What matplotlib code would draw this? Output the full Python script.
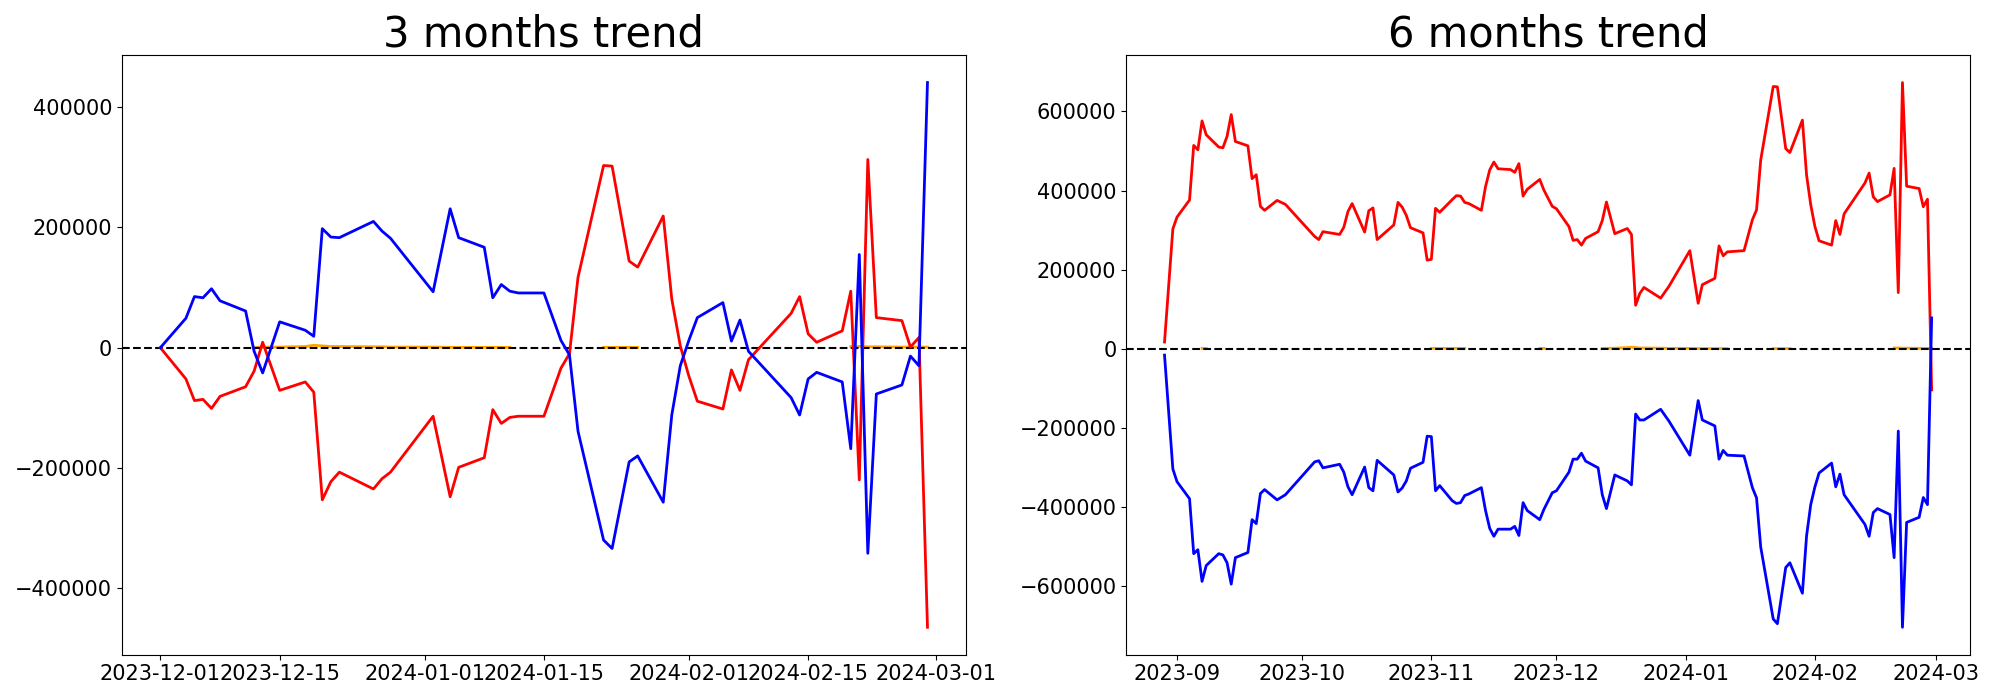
import matplotlib as mpl
mpl.use("agg")
import matplotlib.pyplot as plt
import numpy as np
import pandas as pd

nan = np.nan

# 3 months window (values in thousands)
dates_3m = ["2023-12-01", "2023-12-04", "2023-12-05", "2023-12-06", "2023-12-07", "2023-12-08",
            "2023-12-11", "2023-12-12", "2023-12-13", "2023-12-15", "2023-12-18", "2023-12-19",
            "2023-12-20", "2023-12-21", "2023-12-22", "2023-12-26", "2023-12-27", "2023-12-28",
            "2024-01-02", "2024-01-04", "2024-01-05", "2024-01-08", "2024-01-09", "2024-01-10",
            "2024-01-11", "2024-01-12", "2024-01-15", "2024-01-17", "2024-01-18", "2024-01-19",
            "2024-01-22", "2024-01-23", "2024-01-25", "2024-01-26", "2024-01-29", "2024-01-30",
            "2024-01-31", "2024-02-01", "2024-02-02", "2024-02-05", "2024-02-06", "2024-02-07",
            "2024-02-08", "2024-02-13", "2024-02-14", "2024-02-15", "2024-02-16", "2024-02-19",
            "2024-02-20", "2024-02-21", "2024-02-22", "2024-02-23", "2024-02-26", "2024-02-27",
            "2024-02-28", "2024-02-29"]
red_3m = [0, -52, -88, -86, -101, -81,
          -65, -39, 9, -71, -57, -74,
          -253, -223, -207, -235, -218, -207,
          -114, -248, -199, -183, -103, -126,
          -116, -114, -114, -34, -10, 117,
          303, 302, 144, 134, 219, 81,
          3, -47, -89, -102, -37, -71,
          -20, 57, 85, 23, 9, 28,
          94, -220, 313, 50, 45, 1,
          17, -465]
blue_3m = [0, 49, 85, 83, 98, 78,
           61, -6, -42, 43, 29, 19,
           198, 184, 183, 210, 194, 182,
           93, 231, 183, 167, 83, 105,
           94, 91, 91, 12, -12, -139,
           -320, -334, -190, -180, -257, -112,
           -30, 12, 50, 75, 11, 46,
           -6, -83, -112, -52, -41, -57,
           -168, 155, -342, -77, -62, -14,
           -30, 441]
orange_3m = [nan, nan, nan, nan, nan, nan,
             nan, 0.5, 1, 1, 2, 4,
             3, 2, 2, 1.5, 1.5, 1,
             1, 0.5, 0.5, 0.5, 0.5, 0.5,
             0.5, nan, nan, nan, nan, nan,
             0.5, 0.5, 0.5, 0.5, nan, nan,
             nan, nan, nan, nan, nan, nan,
             nan, nan, nan, nan, nan, nan,
             2, 2, 1.5, 1.5, 1, 1,
             1, 1]

# 6 months window (values in thousands)
dates_6m = ["2023-08-29", "2023-08-31", "2023-09-01", "2023-09-04", "2023-09-05", "2023-09-06",
            "2023-09-07", "2023-09-08", "2023-09-11", "2023-09-12", "2023-09-13", "2023-09-14",
            "2023-09-15", "2023-09-18", "2023-09-19", "2023-09-20", "2023-09-21", "2023-09-22",
            "2023-09-25", "2023-09-27", "2023-10-04", "2023-10-05", "2023-10-06", "2023-10-10",
            "2023-10-11", "2023-10-12", "2023-10-13", "2023-10-16", "2023-10-17", "2023-10-18",
            "2023-10-19", "2023-10-23", "2023-10-24", "2023-10-25", "2023-10-26", "2023-10-27",
            "2023-10-30", "2023-10-31", "2023-11-01", "2023-11-02", "2023-11-03", "2023-11-06",
            "2023-11-07", "2023-11-08", "2023-11-09", "2023-11-10", "2023-11-13", "2023-11-14",
            "2023-11-15", "2023-11-16", "2023-11-17", "2023-11-20", "2023-11-21", "2023-11-22",
            "2023-11-23", "2023-11-24", "2023-11-27", "2023-11-28", "2023-11-30", "2023-12-01",
            "2023-12-04", "2023-12-05", "2023-12-06", "2023-12-07", "2023-12-08", "2023-12-11",
            "2023-12-12", "2023-12-13", "2023-12-15", "2023-12-18", "2023-12-19", "2023-12-20",
            "2023-12-21", "2023-12-22", "2023-12-26", "2023-12-28", "2024-01-02", "2024-01-04",
            "2024-01-05", "2024-01-08", "2024-01-09", "2024-01-10", "2024-01-11", "2024-01-15",
            "2024-01-17", "2024-01-18", "2024-01-19", "2024-01-22", "2024-01-23", "2024-01-25",
            "2024-01-26", "2024-01-29", "2024-01-30", "2024-01-31", "2024-02-01", "2024-02-02",
            "2024-02-05", "2024-02-06", "2024-02-07", "2024-02-08", "2024-02-13", "2024-02-14",
            "2024-02-15", "2024-02-16", "2024-02-19", "2024-02-20", "2024-02-21", "2024-02-22",
            "2024-02-23", "2024-02-26", "2024-02-27", "2024-02-28", "2024-02-29"]
red_6m = [17, 303, 333, 376, 514, 503,
          576, 541, 510, 508, 537, 592,
          524, 513, 430, 440, 360, 350,
          375, 365, 284, 276, 296, 289,
          307, 347, 367, 295, 349, 356,
          276, 313, 370, 358, 337, 306,
          293, 224, 226, 355, 345, 377,
          387, 386, 370, 367, 350, 410,
          452, 472, 455, 453, 446, 468,
          386, 403, 428, 401, 360, 354,
          309, 274, 276, 262, 279, 296,
          324, 371, 291, 304, 289, 110,
          140, 155, 128, 158, 248, 115,
          162, 178, 260, 235, 245, 248,
          326, 351, 477, 663, 662, 506,
          496, 578, 439, 364, 309, 273,
          262, 324, 289, 341, 419, 444,
          384, 372, 389, 456, 142, 673,
          411, 405, 359, 378, -104]
blue_6m = [-16, -304, -336, -379, -518, -508,
           -588, -548, -518, -521, -541, -595,
           -528, -515, -432, -442, -366, -356,
           -382, -369, -286, -283, -301, -292,
           -312, -349, -369, -299, -351, -359,
           -282, -319, -362, -352, -334, -302,
           -287, -221, -222, -359, -346, -384,
           -391, -389, -371, -367, -351, -409,
           -454, -474, -456, -456, -449, -472,
           -389, -409, -432, -406, -364, -359,
           -312, -279, -279, -264, -284, -301,
           -369, -404, -319, -334, -344, -165,
           -180, -180, -153, -183, -269, -131,
           -180, -195, -279, -257, -269, -271,
           -351, -377, -501, -683, -695, -553,
           -541, -618, -473, -394, -349, -314,
           -289, -349, -317, -369, -444, -474,
           -414, -404, -419, -528, -208, -704,
           -439, -426, -376, -394, 78]
orange_6m = [nan, nan, nan, nan, nan, nan,
             1, 1, nan, nan, nan, nan,
             nan, nan, nan, nan, nan, nan,
             nan, nan, nan, nan, nan, nan,
             nan, nan, nan, nan, nan, nan,
             nan, nan, nan, nan, nan, nan,
             nan, nan, 1, 1, 1, 1,
             1, 1, 1, nan, nan, nan,
             nan, nan, nan, nan, nan, nan,
             nan, nan, 1, 1, nan, nan,
             nan, nan, nan, nan, nan, nan,
             1, 1, 1.5, 3, 4, 3,
             2, 2, 1.5, 1, 1, 0.5,
             0.5, 0.5, 0.5, 0.5, 0.5, nan,
             nan, nan, nan, 0.5, 0.5, 0.5,
             0.5, nan, nan, nan, nan, nan,
             nan, nan, nan, nan, nan, nan,
             nan, nan, nan, 2, 2, 1.5,
             1.5, 1, 1, 1, 1]

panels = [
    ("3 months trend", dates_3m, red_3m, blue_3m, orange_3m),
    ("6 months trend", dates_6m, red_6m, blue_6m, orange_6m),
]

fig, axes = plt.subplots(1, 2, figsize=(20, 7), dpi=100)
fig.subplots_adjust(left=0.061, right=0.985, bottom=0.065, top=0.921, wspace=0.19)

for ax, (title, dates, red, blue, orange) in zip(axes, panels):
    d = pd.to_datetime(dates)
    ax.plot(d, np.array(orange, dtype=float) * 1000, color="orange", linewidth=2)
    ax.axhline(0, color="black", linestyle="--", linewidth=1.5)
    ax.plot(d, np.array(red) * 1000, color="red", linewidth=2)
    ax.plot(d, np.array(blue) * 1000, color="blue", linewidth=2)
    ax.set_title(title, fontsize=30)
    ax.tick_params(labelsize=15)

plt.savefig("out.png")
